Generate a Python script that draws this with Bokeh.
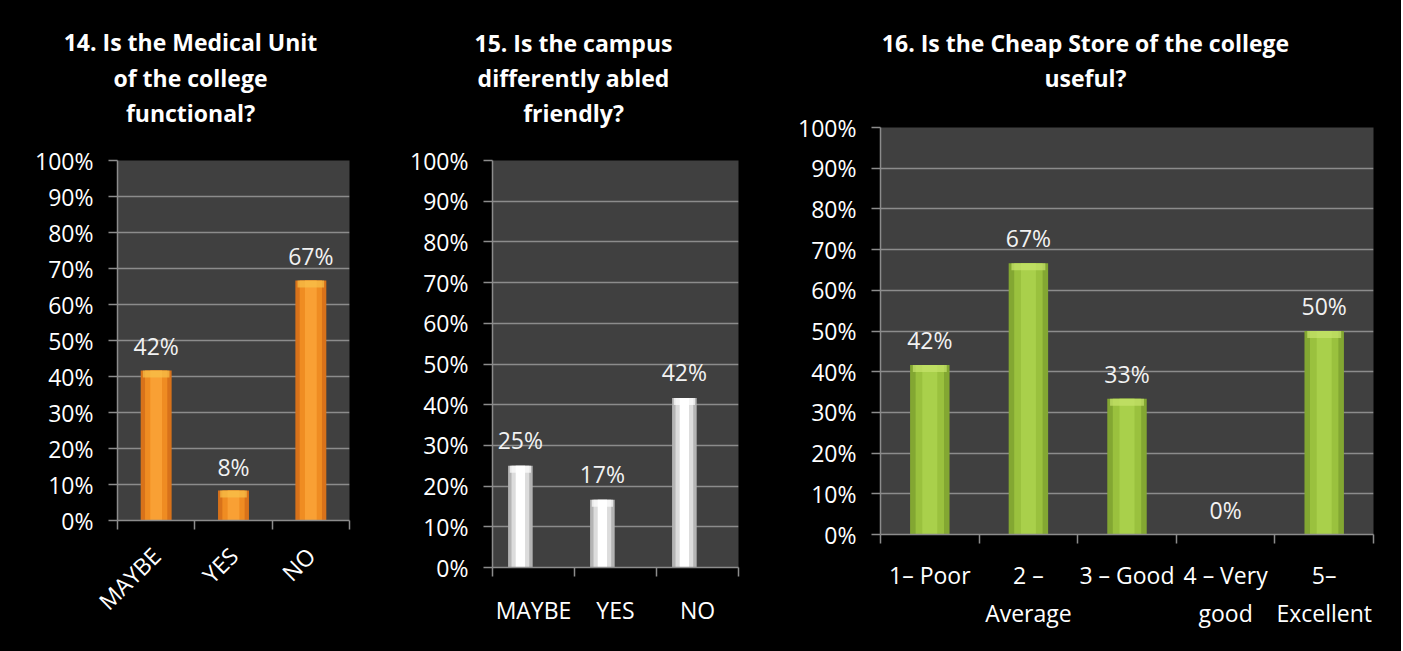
import math
from bokeh.plotting import figure
from bokeh.layouts import row, column
from bokeh.models import Range1d, FixedTicker, ColumnDataSource, PrintfTickFormatter
from bokeh.core.properties import value
from bokeh.embed import file_html
from bokeh.resources import INLINE

# ---------------- data ----------------
q14_title = ["14. Is the Medical Unit", "of the college", "functional?"]
q14_cats = ["MAYBE", "YES", "NO"]
q14_vals = [41.67, 8.33, 66.67]

q15_title = ["15. Is the campus", "differently abled", "friendly?"]
q15_cats = ["MAYBE", "YES", "NO"]
q15_vals = [25.0, 16.67, 41.67]

q16_title = ["16. Is the Cheap Store of the college", "useful?"]
q16_cats = ["1– Poor", "2 –\nAverage", "3 – Good", "4 – Very\ngood", "5–\nExcellent"]
q16_vals = [41.67, 66.67, 33.33, 0.0, 50.0]

y_ticks = list(range(0, 101, 10))

FONT = "Open Sans"
GRID = "#8c8c8c"
FRAME = "#404040"
FS = "23px"

ORANGE = [(1.0, "#D8721A"), (0.72, "#EF8C22"), (0.38, "#F9A034")]
WHITE = [(1.0, "#B4B4B4"), (0.72, "#DCDCDC"), (0.38, "#FFFFFF")]
GREEN = [(1.0, "#83A732"), (0.72, "#9AC13E"), (0.38, "#A9D04B")]
CAP_ORANGE = "#F8C24A"
CAP_WHITE = "#FFFFFF"
CAP_GREEN = "#C8E46C"


def title_fig(lines, line_y, cx, W, Ht):
    t = figure(width=W, height=Ht, output_backend="svg", toolbar_location=None,
               x_range=Range1d(0, W), y_range=Range1d(Ht, 0),
               x_axis_location=None, y_axis_location=None,
               min_border=0, min_border_left=0, min_border_right=0,
               min_border_top=0, min_border_bottom=0, frame_align=False,
               background_fill_color="black", border_fill_color="black",
               outline_line_color=None)
    t.grid.visible = False
    src = ColumnDataSource(dict(x=[cx] * len(lines), y=line_y, t=lines))
    t.text(x="x", y="y", text="t", source=src, text_align="center", text_baseline="middle",
           text_font=value(FONT), text_font_style="bold", text_font_size="23px",
           text_color="white")
    return t


def chart_fig(cats, vals, shades, cap_col, W, H, bl, br, bt, bb,
              bar_w, bar_off, lbl_dy, x_orient, x_standoff):
    n = len(cats)
    fh = H - bt - bb
    p = figure(width=W, height=H, output_backend="svg", toolbar_location=None,
               x_range=Range1d(-0.5, n - 0.5), y_range=Range1d(0, 100),
               min_border_left=bl, min_border_right=br, min_border_top=bt, min_border_bottom=bb,
               frame_align=False,
               background_fill_color=FRAME, border_fill_color="black", outline_line_color=None)
    centers = list(range(n))
    xs = [c + bar_off for c in centers]
    cap = 7 * 100.0 / fh  # 7 px highlight at the top of each bar, in data units
    src = ColumnDataSource(dict(x=xs, top=vals, capb=[v - cap for v in vals],
                                lab=[f"{round(v)}%" for v in vals]))
    for frac, col in shades:
        p.vbar(x="x", top="top", bottom=0, width=bar_w * frac, source=src,
               fill_color=col, line_color=None)
    p.vbar(x="x", top="top", bottom="capb", width=bar_w * 0.86, source=src,
           fill_color=cap_col, fill_alpha=0.7, line_color=None)
    p.text(x="x", y="top", text="lab", source=src, y_offset=lbl_dy,
           text_align="center", text_baseline="middle",
           text_font=value(FONT), text_font_size=FS, text_color="#F2F2F2")

    # x axis: labels at category centres, ticks at category boundaries
    xa = p.xaxis[0]
    xa.ticker = FixedTicker(ticks=centers, minor_ticks=[c - 0.5 for c in range(n + 1)])
    xa.major_label_overrides = {c: cat for c, cat in zip(centers, cats)}
    xa.major_tick_line_color = None
    xa.major_tick_out = 0
    xa.major_tick_in = 0
    xa.minor_tick_out = 9
    xa.minor_tick_in = 0
    xa.minor_tick_line_color = GRID
    xa.minor_tick_line_width = 1.5
    xa.axis_line_color = GRID
    xa.axis_line_width = 1.5
    xa.major_label_text_font = FONT
    xa.major_label_text_font_size = FS
    xa.major_label_text_color = "white"
    xa.major_label_standoff = x_standoff
    if x_orient is not None:
        xa.major_label_orientation = x_orient

    # y axis
    ya = p.yaxis[0]
    ya.ticker = FixedTicker(ticks=y_ticks)
    ya.formatter = PrintfTickFormatter(format="%d%%")
    ya.major_tick_out = 9
    ya.major_tick_in = 0
    ya.major_tick_line_color = GRID
    ya.major_tick_line_width = 1.5
    ya.minor_tick_line_color = None
    ya.axis_line_color = GRID
    ya.axis_line_width = 1.5
    ya.major_label_text_font = FONT
    ya.major_label_text_font_size = FS
    ya.major_label_text_color = "white"
    ya.major_label_standoff = 15

    p.xgrid.visible = False
    p.ygrid.ticker = FixedTicker(ticks=y_ticks)
    p.ygrid.grid_line_color = GRID
    p.ygrid.grid_line_width = 1.5
    return p


t1 = title_fig(q14_title, [41, 77, 112], 190, 378, 130)
c1 = chart_fig(q14_cats, q14_vals, ORANGE, CAP_ORANGE, 378, 521, 117, 29, 30, 131,
               0.4, 0.0, -24, math.pi / 4, 22)
t2 = title_fig(q15_title, [42, 77, 112], 195, 389, 130)
c2 = chart_fig(q15_cats, q15_vals, WHITE, CAP_WHITE, 389, 521, 114, 29, 30, 84,
               0.3, -0.16, -26, None, 17)
t3 = title_fig(q16_title, [42, 77], 318, 634, 100)
c3 = chart_fig(q16_cats, q16_vals, GREEN, CAP_GREEN, 634, 551, 113, 28, 27, 117,
               0.4, 0.0, -25, None, 15)

cols = [column(t1, c1), column(t2, c2), column(t3, c3)]
for c in cols:
    c.styles = {"background-color": "black"}
layout = row(*cols)
layout.styles = {"background-color": "black"}
open("out.html", "w").write(file_html(layout, INLINE))
